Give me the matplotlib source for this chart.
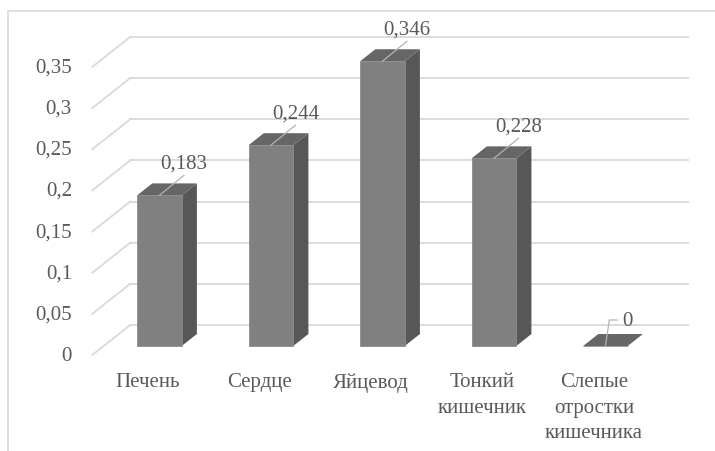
import matplotlib.pyplot as plt
from matplotlib import font_manager
from matplotlib.patches import Polygon, Rectangle

categories = ["Печень", "Сердце", "Яйцевод", "Тонкий\nкишечник", "Слепые\nотростки\nкишечника"]
values = [0.183, 0.244, 0.346, 0.228, 0.0]
value_labels = ["0,183", "0,244", "0,346", "0,228", "0"]
ticks = [0, 0.05, 0.1, 0.15, 0.2, 0.25, 0.3, 0.35]
tick_labels = ["0", "0,05", "0,1", "0,15", "0,2", "0,25", "0,3", "0,35"]

plt.rcParams['font.family'] = ['Liberation Serif', 'DejaVu Serif']
fp = font_manager.FontProperties(fname=font_manager.findfont('Liberation Serif'), size=15)
TXT = '#595959'
GRID = '#d9d9d9'

# depth vector of the 3D box (in data units) and where the bars sit inside it
DX, DY = 0.341, 0.0365
F0, F1 = 0.3, 0.7
W = 0.40

fig = plt.figure(figsize=(7.15, 4.52), dpi=100)
ax = fig.add_axes([0, 0, 1, 1])
ax.set_xlim(-1.327, 5.085)
ax.set_ylim(-0.1166, 0.4326)
ax.axis('off')

# chart border
fig.patches.append(Rectangle((8 / 715, -0.1), 1.2, 0.1 + 1 - 12 / 452,
                             transform=fig.transFigure, fill=False,
                             edgecolor=GRID, lw=1.2))

n = len(categories)
x_left, x_right = -0.5, n - 0.5

# back wall gridlines + side wall diagonals
for t, lab in zip(ticks, tick_labels):
    ax.plot([x_left + DX, x_right + DX], [t + DY, t + DY], color=GRID, lw=1.3, zorder=1)
    ax.plot([x_left, x_left + DX], [t, t + DY], color=GRID, lw=1.3, zorder=1)
    ax.text(-0.682, t, lab, ha='right', va='center', fontproperties=fp, color=TXT)

front_x = [i + F0 * DX for i in range(n)]
base = F0 * DY
dx, dy = (F1 - F0) * DX, (F1 - F0) * DY

ax.bar(front_x, values, width=W, bottom=base, color='#808080',
       edgecolor='#8c8c8c', lw=0.6, zorder=4)

for xc, v in zip(front_x, values):
    xl, xr = xc - W / 2, xc + W / 2
    top = v + base
    side = Polygon([(xr, base), (xr + dx, base + dy), (xr + dx, top + dy), (xr, top)],
                   closed=True, facecolor='#575757', edgecolor='none', zorder=3)
    lid = Polygon([(xl, top), (xr, top), (xr + dx, top + dy), (xl + dx, top + dy)],
                  closed=True, facecolor='#666666', edgecolor='none', zorder=3)
    ax.add_patch(side)
    ax.add_patch(lid)

# data labels with leader lines
for xc, v, lab in zip(front_x, values, value_labels):
    top = v + base
    if v > 0:
        ex, ey = xc + 0.22, top + 0.0243
        ax.plot([xc, ex], [top, ey], color='#b3b3b3', lw=0.9, zorder=5)
        ax.text(ex, ey + 0.0146, lab, ha='center', va='center', fontproperties=fp, color=TXT, zorder=6)
    else:
        ex, ey = xc + 0.035, top + 0.0316
        ax.plot([xc, ex, ex + 0.07], [top, ey, ey], color='#b3b3b3', lw=0.9, zorder=5)
        ax.text(ex + 0.12, ey, lab, ha='left', va='center', fontproperties=fp, color=TXT, zorder=6)

# category labels
for i, c in enumerate(categories):
    ax.text(i, -0.021, c, ha='center', va='top', fontproperties=fp, color=TXT,
            linespacing=1.45)

fig.savefig('out.png', dpi=100)
